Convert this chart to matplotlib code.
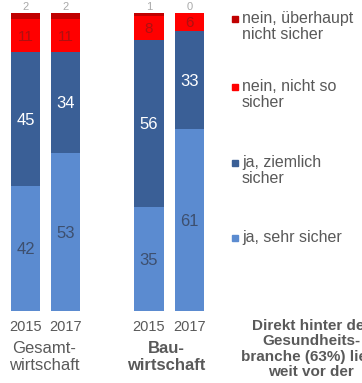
import matplotlib.pyplot as plt
import numpy as np

plt.rcParams['font.family'] = ['Liberation Sans', 'DejaVu Sans']

# Anteile in Prozent, von unten nach oben gestapelt
years = ['2015', '2017', '2015', '2017']
groups = ['Gesamt-\nwirtschaft', 'Bau-\nwirtschaft']
sehr_sicher = [42, 53, 35, 61]
ziemlich_sicher = [45, 34, 56, 33]
nicht_so_sicher = [11, 11, 8, 6]
ueberhaupt_nicht = [2, 2, 1, 0]

series = [
    ('ja, sehr sicher', sehr_sicher, '#5b8bd0'),
    ('ja, ziemlich\nsicher', ziemlich_sicher, '#3a5f96'),
    ('nein, nicht so\nsicher', nicht_so_sicher, '#ff0000'),
    ('nein, überhaupt\nnicht sicher', ueberhaupt_nicht, '#c00000'),
]
label_colors = ['#3d4f6e', 'white', '#b01010', '#b01010']
label_sizes = [12, 12, 11, 11]

W, H = 362, 383
fig = plt.figure(figsize=(W / 100, H / 100), dpi=100)
ax = fig.add_axes([0, (H - 311) / H, 220 / W, 298 / H])

xpos = [25.5, 65.5, 149, 189.5]
bottom = np.zeros(len(xpos))
for (name, vals, col), lc, fs in zip(series, label_colors, label_sizes):
    vals = np.array(vals, dtype=float)
    ax.bar(xpos, vals, width=29.5, bottom=bottom, color=col, edgecolor='none')
    for x, b, v in zip(xpos, bottom, vals):
        if v >= 5:
            ax.text(x, b + v / 2 - 0.5, f'{int(v)}', ha='center', va='center',
                    fontsize=fs, color=lc)
        else:
            ax.text(x, 100.3, f'{int(v)}', ha='center', va='bottom',
                    fontsize=8, color='#555555', alpha=0.5, clip_on=False)
    bottom += vals

ax.set_xlim(0, 220)
ax.set_ylim(0, 100)
ax.axis('off')

# Jahre und Gruppen unter den Balken
for x, yr in zip(xpos, years):
    fig.text(x / W, 1 - 327 / H, yr, ha='center', va='center',
             fontsize=10.5, color='#595959')
fig.text(44 / W, 1 - 357 / H, groups[0], ha='center', va='center',
         fontsize=12, color='#595959', linespacing=1.1)
fig.text(166 / W, 1 - 357 / H, groups[1], ha='center', va='center',
         fontsize=12, color='#595959', fontweight='bold', linespacing=1.1)

# Legende rechts
legend_y = [20, 88, 164, 239]
for (name, vals, col), ly in zip(reversed(series), legend_y):
    fig.patches.append(plt.Rectangle((232 / W, 1 - (ly + 2) / H), 6 / W, 6 / H,
                                     transform=fig.transFigure, color=col))
    fig.text(242 / W, 1 - (ly - 9) / H, name, ha='left', va='top',
             fontsize=11.5, color='#595959', linespacing=1.1)

# Randtext, im Original am rechten Rand abgeschnitten
fig.text(311 / W, 1 - 349 / H,
         'Direkt hinter der\nGesundheits-\nbranche (63%) liegt\nweit vor der',
         ha='center', va='center', fontsize=11, fontweight='bold',
         color='#595959', linespacing=1.1)

fig.savefig('out.png', dpi=100)
